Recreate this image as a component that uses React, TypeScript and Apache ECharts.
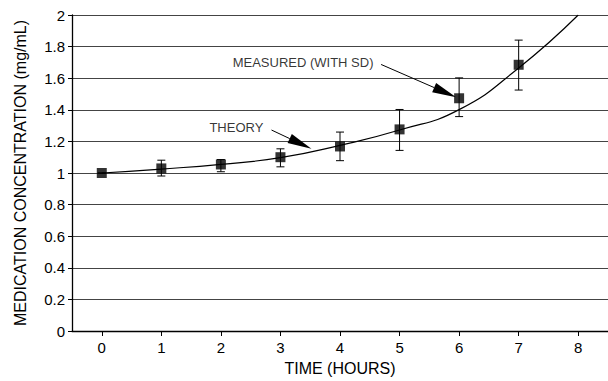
import React, { useEffect, useRef } from "react";
import * as echarts from "echarts";

const hours = [0, 1, 2, 3, 4, 5, 6, 7, 8];
const theory = [1.0, 1.025, 1.055, 1.097, 1.175, 1.272, 1.401, 1.665, 2.0];
const measuredHours = [0, 1, 2, 3, 4, 5, 6, 7];
const measured = [1.0, 1.029, 1.054, 1.1, 1.168, 1.276, 1.473, 1.685];
const sdLow = [1.0, 0.981, 1.008, 1.039, 1.078, 1.143, 1.357, 1.525];
const sdHigh = [1.0, 1.081, 1.085, 1.153, 1.259, 1.402, 1.602, 1.841];
const yTicks = [0, 0.2, 0.4, 0.6, 0.8, 1, 1.2, 1.4, 1.6, 1.8, 2];

const notes = [
  { text: "THEORY", at: [2.26, 1.288], from: [2.85, 1.272], to: [3.52, 1.153] },
  { text: "MEASURED (WITH SD)", at: [3.38, 1.698], from: [4.69, 1.687], to: [5.95, 1.48] },
];

const FONT = "Liberation Sans, Arial, Helvetica, sans-serif";

export default function App() {
  const ref = useRef<HTMLDivElement>(null);
  useEffect(() => {
    if (!ref.current) return;
    const chart = echarts.init(ref.current, undefined, { renderer: "svg" });
    const option: any = {
      animation: false,
      backgroundColor: "#ffffff",
      grid: { left: 72, top: 15, height: 321, right: -5 },
      xAxis: {
        type: "value",
        min: -0.5,
        max: 8.5,
        splitNumber: 9,
        name: "TIME (HOURS)",
        nameLocation: "middle",
        nameGap: 29,
        nameTextStyle: { fontFamily: FONT, fontSize: 16, color: "#000" },
        axisLine: { show: true, onZero: false, lineStyle: { color: "#000", width: 1.3 } },
        axisTick: { show: true, length: 5, lineStyle: { color: "#000" } },
        axisLabel: {
          showMinLabel: false,
          showMaxLabel: false,
          margin: 9,
          fontFamily: FONT,
          fontSize: 15,
          color: "#000",
          formatter: (v: number) => (hours.includes(v) ? String(v) : ""),
        },
        splitLine: { show: false },
      },
      yAxis: {
        type: "value",
        min: yTicks[0],
        max: yTicks[yTicks.length - 1],
        interval: 0.2,
        name: "MEDICATION CONCENTRATION (mg/mL)",
        nameLocation: "middle",
        nameGap: 44,
        nameTextStyle: { fontFamily: FONT, fontSize: 16, color: "#000" },
        axisLine: { show: true, onZero: false, lineStyle: { color: "#000", width: 1.3 } },
        axisTick: { show: true, length: 4, lineStyle: { color: "#000" } },
        axisLabel: { margin: 7, fontFamily: FONT, fontSize: 15, color: "#000" },
        splitLine: { show: true, lineStyle: { color: "#444", width: 1 } },
      },
      series: [
        {
          type: "line",
          data: hours.map((h, i) => [h, theory[i]]),
          smooth: true,
          symbol: "none",
          lineStyle: { color: "#000", width: 1.2 },
          z: 3,
        },
        {
          type: "custom",
          data: measuredHours.map((h, i) => [h, sdLow[i], sdHigh[i]]),
          renderItem: (params: any, api: any) => {
            const lo = api.coord([api.value(0), api.value(1)]);
            const hi = api.coord([api.value(0), api.value(2)]);
            const cw = 4;
            const st = { stroke: "#000", lineWidth: 1 };
            return {
              type: "group",
              children: [
                { type: "line", shape: { x1: lo[0], y1: lo[1], x2: hi[0], y2: hi[1] }, style: st },
                { type: "line", shape: { x1: lo[0] - cw, y1: lo[1], x2: lo[0] + cw, y2: lo[1] }, style: st },
                { type: "line", shape: { x1: hi[0] - cw, y1: hi[1], x2: hi[0] + cw, y2: hi[1] }, style: st },
              ],
            };
          },
          z: 4,
        },
        {
          type: "scatter",
          data: measuredHours.map((h, i) => [h, measured[i]]),
          symbol: "rect",
          symbolSize: 10,
          itemStyle: { color: "#000" },
          z: 5,
        },
        {
          type: "custom",
          clip: false,
          data: notes.map((n) => [n.from[0], n.from[1], n.to[0], n.to[1]]),
          renderItem: (params: any, api: any) => {
            const p1 = api.coord([api.value(0), api.value(1)]);
            const p2 = api.coord([api.value(2), api.value(3)]);
            const dx = p2[0] - p1[0];
            const dy = p2[1] - p1[1];
            const len = Math.sqrt(dx * dx + dy * dy);
            const ux = dx / len;
            const uy = dy / len;
            const hl = 24;
            const hw = 5;
            const bx = p2[0] - ux * hl;
            const by = p2[1] - uy * hl;
            return {
              type: "group",
              children: [
                { type: "line", shape: { x1: p1[0], y1: p1[1], x2: bx, y2: by }, style: { stroke: "#000", lineWidth: 1 } },
                {
                  type: "polygon",
                  shape: {
                    points: [
                      [p2[0], p2[1]],
                      [bx - uy * hw, by + ux * hw],
                      [bx + uy * hw, by - ux * hw],
                    ],
                  },
                  style: { fill: "#000" },
                },
              ],
            };
          },
          z: 6,
        },
        {
          type: "scatter",
          data: notes.map((n) => ({ value: n.at, name: n.text })),
          symbolSize: 0,
          label: {
            show: true,
            position: "inside",
            formatter: (p: any) => p.name,
            fontFamily: FONT,
            fontSize: 13,
            color: "#000",
          },
          z: 7,
        },
      ],
    };
    chart.setOption(option);
    return () => chart.dispose();
  }, []);
  return (
    <div
      ref={ref}
      style={{ position: "absolute", left: 0, top: 0, width: 608, height: 381 }}
    />
  );
}
